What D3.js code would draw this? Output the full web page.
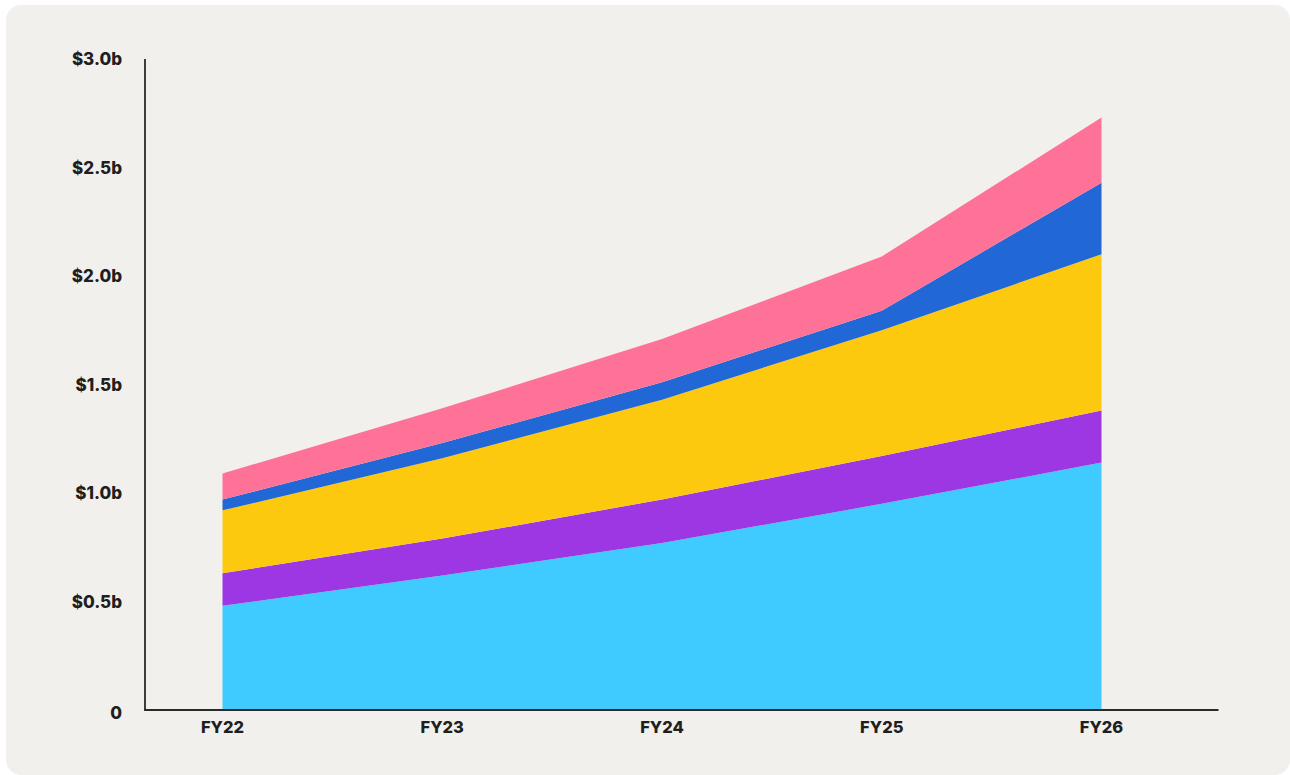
<!DOCTYPE html>
<html>
<head>
<meta charset="utf-8">
<script src="https://cdn.jsdelivr.net/npm/d3@7"></script>
<style>
  html, body { margin: 0; padding: 0; background: #ffffff; }
  svg { display: block; }
  text { font-family: Inter, "Noto Sans", sans-serif; font-weight: 800; fill: #1f1f1f; }
</style>
</head>
<body>
<svg id="chart" width="1290" height="775"></svg>
<script>
const categories = ["FY22", "FY23", "FY24", "FY25", "FY26"];
const seriesNames = ["s1", "s2", "s3", "s4", "s5"];
const s1 = [0.48, 0.62, 0.77, 0.95, 1.14];
const s2 = [0.15, 0.17, 0.20, 0.22, 0.24];
const s3 = [0.29, 0.37, 0.46, 0.58, 0.72];
const s4 = [0.05, 0.07, 0.08, 0.09, 0.33];
const s5 = [0.12, 0.16, 0.20, 0.25, 0.30];
const seriesColors = ["#3fcbff", "#9d36e3", "#fcc90e", "#2167d5", "#ff7297"];
const yTicks = [0, 0.5, 1.0, 1.5, 2.0, 2.5, 3.0];
const yTickLabels = ["0", "$0.5b", "$1.0b", "$1.5b", "$2.0b", "$2.5b", "$3.0b"];

const seriesValues = [s1, s2, s3, s4, s5];
const rows = categories.map((c, i) => {
  const r = { cat: c };
  seriesNames.forEach((n, k) => r[n] = seriesValues[k][i]);
  return r;
});

const svg = d3.select("#chart");
svg.append("rect").attr("x", 6).attr("y", 5).attr("width", 1284).attr("height", 770)
  .attr("rx", 15).attr("fill", "#f2f0ec");

const x = d3.scalePoint().domain(categories).range([222.5, 1101.5]);
const y = d3.scaleLinear().domain([0, 3]).range([710, 59]);

const stack = d3.stack().keys(seriesNames);
const stacked = stack(rows);
const area = d3.area()
  .x(d => x(d.data.cat))
  .y0(d => y(d[0]))
  .y1(d => y(d[1]));

svg.append("g").selectAll("path").data(stacked).join("path")
  .attr("d", area)
  .attr("fill", (d, i) => seriesColors[i]);

// axes lines
svg.append("line").attr("x1", 145).attr("x2", 145).attr("y1", y(3)).attr("y2", y(0))
  .attr("stroke", "#2a2a2a").attr("stroke-width", 1.8);
svg.append("line").attr("x1", 144.1).attr("x2", 1218.5).attr("y1", y(0)).attr("y2", y(0))
  .attr("stroke", "#2a2a2a").attr("stroke-width", 1.8);

// y tick labels
svg.append("g").selectAll("text").data(yTicks).join("text")
  .attr("x", 122)
  .attr("y", d => y(d) + (d === 0 ? 3 : 0))
  .attr("dy", "0.36em")
  .attr("text-anchor", "end")
  .attr("font-size", 17)
  .text((d, i) => yTickLabels[i]);

// x tick labels
svg.append("g").selectAll("text").data(categories).join("text")
  .attr("x", d => x(d))
  .attr("y", 727)
  .attr("dy", "0.36em")
  .attr("text-anchor", "middle")
  .attr("font-size", 16.5)
  .text(d => d);
</script>
</body>
</html>
